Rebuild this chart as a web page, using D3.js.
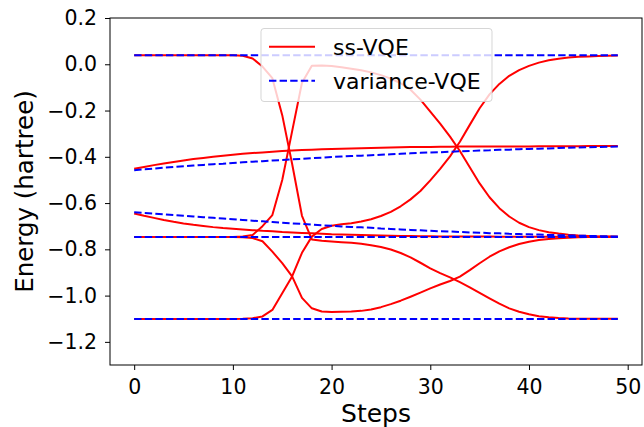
<!DOCTYPE html>
<html><head><meta charset="utf-8">
<script src="https://cdn.jsdelivr.net/npm/d3@7"></script>
<style>body{margin:0;background:#fff;} svg{display:block;font-family:"DejaVu Sans",sans-serif;}</style>
</head><body>
<svg id="c" width="644" height="427"></svg>
<script>
const steps = d3.range(50);
// ss-VQE energies (6 states)
const ssA = [-0.452,-0.444,-0.436,-0.429,-0.422,-0.416,-0.410,-0.405,-0.400,-0.395,-0.391,-0.387,-0.384,-0.381,-0.378,-0.375,-0.373,-0.371,-0.369,-0.367,-0.366,-0.365,-0.364,-0.363,-0.362,-0.361,-0.360,-0.359,-0.358,-0.358,-0.358,-0.357,-0.357,-0.356,-0.356,-0.356,-0.355,-0.355,-0.355,-0.355,-0.355,-0.354,-0.354,-0.354,-0.354,-0.354,-0.353,-0.353,-0.353,-0.353];
const ssB = [-0.645,-0.655,-0.664,-0.673,-0.681,-0.688,-0.694,-0.699,-0.704,-0.708,-0.711,-0.714,-0.717,-0.720,-0.722,-0.725,-0.727,-0.729,-0.731,-0.733,-0.735,-0.736,-0.737,-0.738,-0.739,-0.740,-0.741,-0.742,-0.742,-0.743,-0.743,-0.744,-0.744,-0.745,-0.745,-0.745,-0.745,-0.746,-0.746,-0.746,-0.746,-0.746,-0.746,-0.746,-0.746,-0.746,-0.746,-0.746,-0.746,-0.746];
const ssC = [-0.747,-0.747,-0.747,-0.747,-0.747,-0.747,-0.747,-0.747,-0.747,-0.747,-0.747,-0.745,-0.738,-0.700,-0.652,-0.500,-0.290,-0.080,-0.006,-0.005,-0.008,-0.013,-0.019,-0.026,-0.035,-0.047,-0.062,-0.082,-0.110,-0.153,-0.205,-0.257,-0.313,-0.375,-0.445,-0.515,-0.575,-0.622,-0.658,-0.685,-0.704,-0.717,-0.726,-0.732,-0.737,-0.740,-0.742,-0.744,-0.745,-0.746];
const ssD = [0.039,0.039,0.039,0.039,0.039,0.039,0.039,0.039,0.039,0.039,0.039,0.037,0.025,-0.010,-0.060,-0.220,-0.430,-0.655,-0.757,-0.763,-0.766,-0.769,-0.772,-0.776,-0.782,-0.790,-0.801,-0.816,-0.835,-0.858,-0.882,-0.903,-0.921,-0.942,-0.964,-0.988,-1.012,-1.035,-1.055,-1.070,-1.081,-1.089,-1.094,-1.097,-1.099,-1.100,-1.100,-1.100,-1.100,-1.100];
const ssE = [-1.101,-1.101,-1.101,-1.101,-1.101,-1.101,-1.101,-1.101,-1.101,-1.101,-1.101,-1.100,-1.098,-1.090,-1.062,-0.990,-0.917,-0.815,-0.745,-0.712,-0.698,-0.692,-0.687,-0.680,-0.670,-0.656,-0.638,-0.614,-0.584,-0.548,-0.502,-0.452,-0.398,-0.335,-0.262,-0.190,-0.130,-0.085,-0.050,-0.025,-0.007,0.007,0.017,0.024,0.029,0.032,0.034,0.036,0.037,0.038];
const ssF = [-0.747,-0.747,-0.747,-0.747,-0.747,-0.747,-0.747,-0.747,-0.747,-0.747,-0.747,-0.748,-0.751,-0.765,-0.810,-0.860,-0.917,-1.010,-1.055,-1.069,-1.071,-1.070,-1.069,-1.066,-1.060,-1.050,-1.037,-1.022,-1.005,-0.987,-0.969,-0.952,-0.937,-0.918,-0.890,-0.860,-0.832,-0.809,-0.791,-0.777,-0.767,-0.760,-0.755,-0.752,-0.750,-0.748,-0.747,-0.747,-0.747,-0.747];
// variance-VQE energies
const varA = steps.map(() => 0.039);
const varB = [-0.458,-0.454,-0.451,-0.447,-0.444,-0.441,-0.438,-0.435,-0.432,-0.430,-0.427,-0.424,-0.421,-0.419,-0.416,-0.414,-0.411,-0.409,-0.406,-0.404,-0.401,-0.399,-0.397,-0.395,-0.393,-0.391,-0.389,-0.387,-0.385,-0.383,-0.381,-0.380,-0.378,-0.376,-0.375,-0.373,-0.372,-0.370,-0.369,-0.367,-0.366,-0.365,-0.364,-0.362,-0.361,-0.360,-0.359,-0.358,-0.357,-0.356];
const varC = [-0.640,-0.643,-0.646,-0.649,-0.652,-0.655,-0.658,-0.661,-0.664,-0.667,-0.670,-0.673,-0.676,-0.679,-0.682,-0.685,-0.688,-0.690,-0.693,-0.696,-0.698,-0.701,-0.703,-0.705,-0.707,-0.710,-0.712,-0.714,-0.716,-0.718,-0.720,-0.722,-0.723,-0.725,-0.727,-0.728,-0.730,-0.731,-0.733,-0.734,-0.735,-0.736,-0.738,-0.739,-0.740,-0.741,-0.742,-0.743,-0.744,-0.745];
const varD = steps.map(() => -0.747);
const varE = steps.map(() => -1.101);
const ssSeries = [ssA, ssB, ssC, ssD, ssE, ssF];
const varSeries = [varA, varB, varC, varD, varE];
const xTicks = [0,10,20,30,40,50];
const yTicks = [-1.2,-1.0,-0.8,-0.6,-0.4,-0.2,0.0,0.2];
const legendLabels = ["ss-VQE","variance-VQE"];

const L=110, R=642, T=18, B=365;
const svg = d3.select("#c");
const x = d3.scaleLinear().domain([-2.45, 51.45]).range([L, R]);
const y = d3.scaleLinear().domain([-1.3, 0.2]).range([B, T]);
const fmt = v => d3.format(".1f")(v).replace("-", "\u2212");

const line = d3.line().x((d,i)=>x(steps[i])).y(d=>y(d));
const g = svg.append("g");
ssSeries.forEach(s => g.append("path").attr("d", line(s)).attr("fill","none")
  .attr("stroke","#ff0000").attr("stroke-width",2).attr("stroke-linejoin","round"));
varSeries.forEach(s => g.append("path").attr("d", line(s)).attr("fill","none")
  .attr("stroke","#0000ff").attr("stroke-width",2).attr("stroke-dasharray","7.4,3.2"));

// axes
const xa = svg.append("g").attr("transform",`translate(0,${B})`)
  .call(d3.axisBottom(x).tickValues(xTicks).tickSize(5).tickPadding(5).tickFormat(d3.format("d")));
const ya = svg.append("g").attr("transform",`translate(${L},0)`)
  .call(d3.axisLeft(y).tickValues(yTicks).tickSize(5).tickPadding(8).tickFormat(fmt));
[xa, ya].forEach(a => {
  a.select(".domain").remove();
  a.selectAll("text").attr("font-size", 20.5).attr("fill","#000").attr("font-family","DejaVu Sans");
  a.selectAll("line").attr("stroke","#000").attr("stroke-width",1);
});
xa.selectAll("text").attr("dy","0.95em");
svg.append("rect").attr("x",L).attr("y",T).attr("width",R-L).attr("height",B-T)
  .attr("fill","none").attr("stroke","#000").attr("stroke-width",1);

svg.append("text").attr("x",(L+R)/2).attr("y",422).attr("text-anchor","middle")
  .attr("font-size",25).text("Steps");
svg.append("text").attr("transform",`translate(33,${(T+B)/2}) rotate(-90)`).attr("text-anchor","middle")
  .attr("font-size",24.5).text("Energy (hartree)");

// legend
const lg = svg.append("g");
lg.append("rect").attr("x",261).attr("y",28.5).attr("width",231).attr("height",73).attr("rx",3)
  .attr("fill","#fff").attr("fill-opacity",0.8).attr("stroke","#cccccc").attr("stroke-opacity",0.8).attr("stroke-width",1);
const ly = [46.7, 80.7];
lg.append("line").attr("x1",269).attr("x2",315).attr("y1",ly[0]).attr("y2",ly[0]).attr("stroke","#ff0000").attr("stroke-width",2);
lg.append("line").attr("x1",269).attr("x2",315).attr("y1",ly[1]).attr("y2",ly[1]).attr("stroke","#0000ff").attr("stroke-width",2).attr("stroke-dasharray","7.4,3.2");
legendLabels.forEach((t,i)=> lg.append("text").attr("x",333).attr("y",ly[i]+8.3).attr("font-size",22).text(t));
</script>
</body></html>
